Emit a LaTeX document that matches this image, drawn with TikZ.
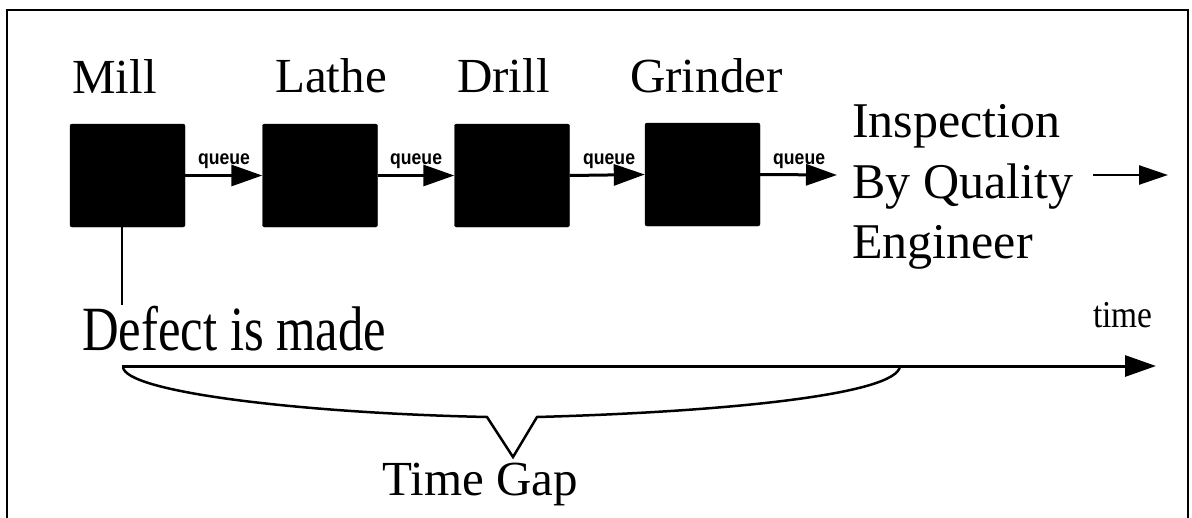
\documentclass[tikz,border=0pt]{standalone}
\usepackage{fontspec}
\setmainfont{Liberation Serif}
\newfontfamily\qfont{Liberation Sans}
\usetikzlibrary{arrows.meta}
\tikzset{
  machine/.style={draw=black, fill=black, rounded corners=2pt, minimum width=115pt, minimum height=103pt, inner sep=0pt},
  lbl/.style={anchor=base west, inner sep=0pt, font=\fontsize{49}{58}\selectfont},
  qlbl/.style={anchor=base west, inner sep=0pt, font=\qfont\bfseries\fontsize{20}{23}\selectfont},
  flow/.style={line width=3pt, -{Triangle[length=31pt,width=21pt]}},
  frame/.style={line width=1.6pt},
}
\begin{document}
\begin{tikzpicture}[x=1pt,y=-1pt]
\useasboundingbox (0,0) rectangle (1192,517);
\draw[frame] (7,518) -- (7,10) -- (1188,10) -- (1188,518);
% machines
\node[machine] (mill) at (127.5,175.5) {};
\node[machine] (lathe) at (320,175.5) {};
\node[machine] (drill) at (512,175.5) {};
\node[machine] (grinder) at (702.5,174.5) {};
% titles
\node[lbl] (tmill) at (72,93) {Mill};
\node[lbl] (tlathe) at (275,92) {Lathe};
\node[lbl] (tdrill) at (457,92) {Drill};
\node[lbl] (tgrinder) at (630,92) {Grinder};
% queues
\draw[flow] (mill.east) -- (lathe.west);
\draw[flow] (lathe.east) -- (drill.west);
\draw[flow] (drill.east) -- (grinder.west);
\coordinate (inspin) at (837,175);
\draw[flow] (grinder.east) -- (inspin);
\node[qlbl] (q1) at (198,164) {\scalebox{0.88}[1]{queue}};
\node[qlbl] (q2) at (390,164) {\scalebox{0.88}[1]{queue}};
\node[qlbl] (q3) at (583,164) {\scalebox{0.88}[1]{queue}};
\node[qlbl] (q4) at (773,164) {\scalebox{0.88}[1]{queue}};
% inspection
\node[lbl, font=\fontsize{50}{60}\selectfont] (insp1) at (852,137) {Inspection};
\node[lbl, font=\fontsize{50}{60}\selectfont] (insp2) at (852,198) {By Quality};
\node[lbl, font=\fontsize{50}{60}\selectfont] (insp3) at (852,258) {Engineer};
\coordinate (outs) at (1093,175);
\coordinate (oute) at (1168,175);
\draw[line width=2.5pt, -{Triangle[length=29pt,width=19pt]}] (outs) -- (oute);
% defect
\coordinate (defect) at (122,305);
\draw[line width=2pt] (mill.south -| defect) -- (defect);
\node[anchor=base west, inner sep=0pt] (tdefect) at (82,350) {\fontsize{63}{70}\selectfont\scalebox{0.805}[1]{Defect is made}};
% time axis
\coordinate (t0) at (122,366);
\coordinate (t1) at (1156,366);
\draw[line width=3pt, -{Triangle[length=31pt,width=21pt]}] (t0) -- (t1);
\node[anchor=base west, inner sep=0pt] (ttime) at (1093,327) {\fontsize{38}{44}\selectfont\scalebox{0.88}[1]{time}};
% brace
\draw[line width=2.5pt, line join=miter] (123,367) .. controls (125,392) and (300,413) .. (487,417) -- (513,457) -- (537,417) .. controls (720,412) and (898,395) .. (900,366);
\node[lbl] (tgap) at (382,495) {Time Gap};
\end{tikzpicture}
\end{document}
